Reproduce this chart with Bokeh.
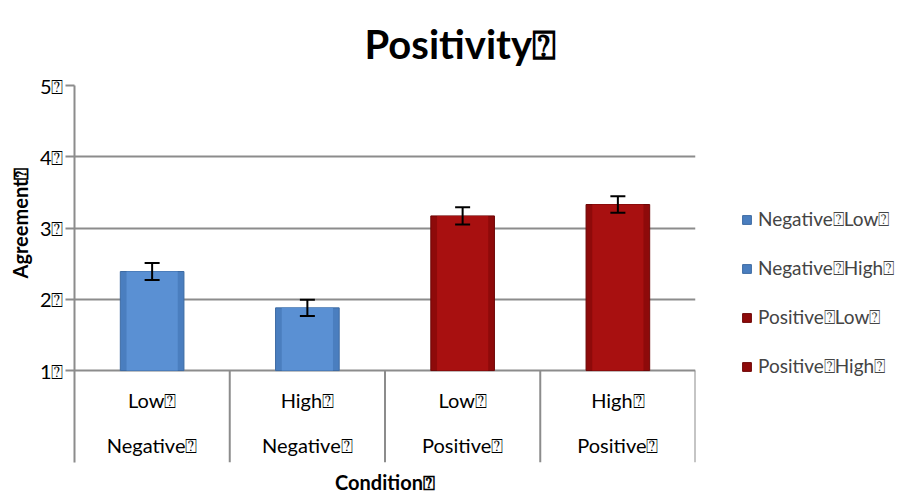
from bokeh.plotting import figure
from bokeh.models import ColumnDataSource, FixedTicker, Whisker, Legend, LegendItem, Title, TeeHead
from bokeh.core.properties import value
from bokeh.embed import file_html
from bokeh.resources import INLINE

Q = "\u2370"
title_text = "Positivity" + Q
y_title = "Agreement" + Q
x_title = "Condition" + Q
levels = ["Low" + Q, "High" + Q, "Low" + Q, "High" + Q]
groups = ["Negative" + Q, "Negative" + Q, "Positive" + Q, "Positive" + Q]
series = ["Negative" + Q + "Low" + Q, "Negative" + Q + "High" + Q,
          "Positive" + Q + "Low" + Q, "Positive" + Q + "High" + Q]
means = [2.39, 1.88, 3.17, 3.33]
errors = [0.12, 0.115, 0.12, 0.115]
colors = ["#4A7EBF", "#4A7EBF", "#8E0A0A", "#8E0A0A"]
inner_colors = ["#5A90D3", "#5A90D3", "#A81010", "#A81010"]
edge_colors = ["#3D6BA3", "#3D6BA3", "#6E0606", "#6E0606"]
y_ticks = [1, 2, 3, 4, 5]

FONT = "Lato"
GRAY = "#8C8C8C"
BASE = 1
Y0 = -0.29

xs = list(range(len(means)))
src = ColumnDataSource(dict(
    x=xs, top=means, color=colors, inner=inner_colors, edge=edge_colors, label=series,
    upper=[m + e for m, e in zip(means, errors)],
    lower=[m - e for m, e in zip(means, errors)],
    level=levels, group=groups,
))

p = figure(frame_width=621, frame_height=377, x_range=(-0.5, len(means) - 0.5), y_range=(Y0, 5),
           output_backend="svg", toolbar_location=None,
           min_border_left=72, min_border_right=213, min_border_top=85, min_border_bottom=32)
p.outline_line_color = None
p.background_fill_color = "white"
p.border_fill_color = "white"

# axes
p.xaxis.visible = False
p.xgrid.visible = False
p.yaxis.ticker = FixedTicker(ticks=y_ticks)
p.yaxis.major_label_overrides = {t: f"{t}{Q}" for t in y_ticks}
p.yaxis.axis_line_color = GRAY
p.yaxis.axis_line_width = 2
p.yaxis.major_tick_line_color = GRAY
p.yaxis.major_tick_line_width = 2
p.yaxis.major_tick_out = 9
p.yaxis.major_tick_in = 0
p.yaxis.minor_tick_line_color = None
p.yaxis.major_label_text_font = FONT
p.yaxis.major_label_text_font_size = "20px"
p.yaxis.major_label_text_color = "black"
p.yaxis.major_label_standoff = 2
p.ygrid.ticker = FixedTicker(ticks=y_ticks)
p.ygrid.grid_line_color = GRAY
p.ygrid.grid_line_width = 2

# category dividers
div_x = [x + 0.5 for x in xs]
p.segment(x0=div_x, y0=[Y0] * len(div_x), x1=div_x, y1=[BASE] * len(div_x),
          line_color=GRAY, line_width=2)

# bars (darker sides, lighter face)
r = p.vbar(x="x", top="top", bottom=BASE, width=0.41, source=src,
           fill_color="color", line_color="edge", line_width=1)
p.vbar(x="x", top="top", bottom=BASE, width=0.33, source=src,
       fill_color="inner", line_color=None)

# error bars
w = Whisker(base="x", upper="upper", lower="lower", source=src, level="overlay",
            line_color="black", line_width=2,
            upper_head=TeeHead(size=15, line_color="black", line_width=2),
            lower_head=TeeHead(size=15, line_color="black", line_width=2))
p.add_layout(w)

# category labels
p.text(x="x", y=0.59, text="level", source=src, text_align="center", text_baseline="middle",
       text_font=value(FONT), text_font_size="20px", text_color="black")
p.text(x="x", y=-0.05, text="group", source=src, text_align="center", text_baseline="middle",
       text_font=value(FONT), text_font_size="20px", text_color="black")

# legend
items = [LegendItem(label=series[i], renderers=[r], index=i) for i in range(len(series))]
legend = Legend(items=items, location=(46, 84), orientation="vertical",
                glyph_width=11, glyph_height=11, label_height=20, spacing=25,
                label_text_font=FONT, label_text_font_size="19px", label_standoff=6,
                padding=0, margin=0, background_fill_alpha=0, border_line_color=None)
p.add_layout(legend, "right")

# titles
p.add_layout(Title(text=title_text, align="left", offset=290, text_font=FONT, text_color="black",
                   text_font_size="40px", text_font_style="bold", standoff=32,
                   vertical_align="top"), "above")
p.add_layout(Title(text=y_title, align="left", offset=184, text_font=FONT, text_color="black",
                   text_font_size="20px", text_font_style="bold"), "left")
p.add_layout(Title(text=x_title, align="center", text_font=FONT, text_color="black",
                   text_font_size="20px", text_font_style="bold"), "below")

open("out.html", "w").write(file_html(p, INLINE))
